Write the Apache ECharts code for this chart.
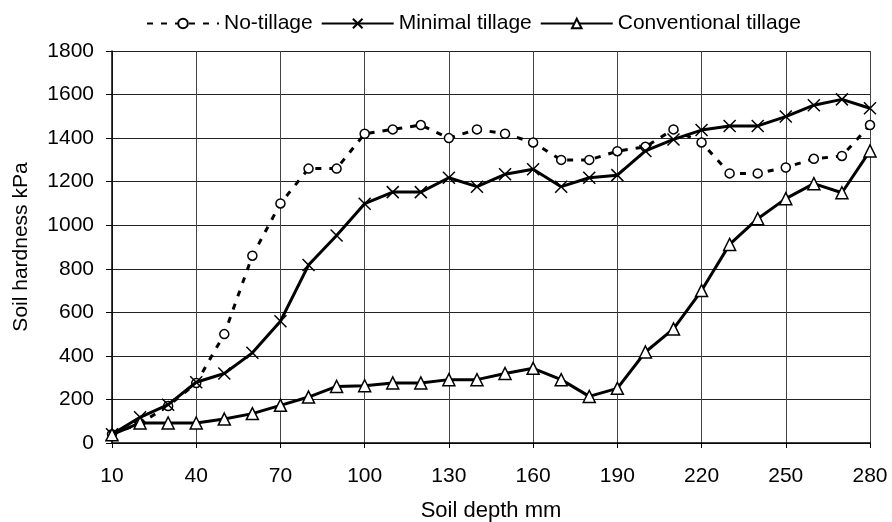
<!DOCTYPE html>
<html>
<head>
<meta charset="utf-8">
<script src="https://cdn.jsdelivr.net/npm/echarts@6/dist/echarts.min.js"></script>
<style>html,body{margin:0;padding:0;background:#fff;}#c{width:892px;height:522px;}</style>
</head>
<body>
<div id="c"></div>
<script>
var depths = [10,20,30,40,50,60,70,80,90,100,110,120,130,140,150,160,170,180,190,200,210,220,230,240,250,260,270,280];
var noTillage = [40,90,170,275,500,860,1100,1260,1260,1420,1440,1460,1400,1440,1420,1380,1300,1300,1340,1360,1440,1380,1238,1238,1265,1305,1318,1460];
var minimalTillage = [40,118,176,279,319,414,559,817,953,1099,1152,1152,1218,1177,1234,1257,1177,1218,1230,1341,1394,1437,1456,1456,1499,1551,1578,1537];
var conventionalTillage = [38,92,92,92,110,135,173,211,260,263,276,276,291,291,319,343,291,214,251,418,524,700,912,1030,1122,1191,1149,1341];
var seriesNames = ['No-tillage','Minimal tillage','Conventional tillage'];

var font = 'Liberation Sans, Arial, sans-serif';
var chart = echarts.init(document.getElementById('c'));
chart.setOption({
  animation: false,
  backgroundColor: '#fff',
  textStyle: {fontFamily: font, color: '#000'},
  legend: {
    top: 13, left: 146, itemWidth: 72, itemHeight: 12, itemGap: 8, padding: 0,
    textStyle: {fontFamily: font, fontSize: 21, color: '#000'},
    data: seriesNames
  },
  grid: {left: 112, right: 22, top: 51, bottom: 79, containLabel: false, outerBoundsMode: 'none'},
  xAxis: {
    type: 'category', data: depths, boundaryGap: false,
    name: 'Soil depth mm', nameLocation: 'middle', nameGap: 57,
    nameTextStyle: {fontFamily: font, fontSize: 22, color: '#000'},
    axisLine: {lineStyle: {color: '#000', width: 1.5}},
    axisTick: {show: true, interval: 2, length: 5, inside: false, lineStyle: {color: '#000'}},
    axisLabel: {interval: 2, fontFamily: font, fontSize: 21, color: '#000', margin: 23},
    splitLine: {show: true, interval: 2, lineStyle: {color: '#444', width: 1}}
  },
  yAxis: {
    type: 'value', min: 0, max: 1800, interval: 200,
    name: 'Soil hardness kPa', nameLocation: 'middle', nameGap: 80, nameRotate: 90,
    nameTextStyle: {fontFamily: font, fontSize: 21, color: '#000'},
    axisLine: {show: true, lineStyle: {color: '#000', width: 1.5}},
    axisTick: {show: true, length: 6, lineStyle: {color: '#000'}},
    axisLabel: {fontFamily: font, fontSize: 21, color: '#000', margin: 18,
      formatter: function (v) { return String(v); }},
    splitLine: {show: true, lineStyle: {color: '#222', width: 1}}
  },
  series: [
    {
      name: seriesNames[0], type: 'line', data: noTillage,
      symbol: 'circle', symbolSize: 9, showAllSymbol: true,
      lineStyle: {color: '#000', width: 3, type: [6, 8]},
      itemStyle: {color: '#fff', borderColor: '#000', borderWidth: 1.5},
      z: 3
    },
    {
      name: seriesNames[1], type: 'line', data: minimalTillage,
      symbol: 'path://M0 0L10 10M10 0L0 10', symbolSize: 12, showAllSymbol: true,
      lineStyle: {color: '#000', width: 3},
      itemStyle: {color: '#000', borderColor: '#000', borderWidth: 1.5},
      z: 4
    },
    {
      name: seriesNames[2], type: 'line', data: conventionalTillage,
      symbol: 'triangle', symbolSize: 12, showAllSymbol: true,
      lineStyle: {color: '#000', width: 3},
      itemStyle: {color: '#fff', borderColor: '#000', borderWidth: 1.5},
      z: 5
    }
  ]
});
</script>
</body>
</html>
